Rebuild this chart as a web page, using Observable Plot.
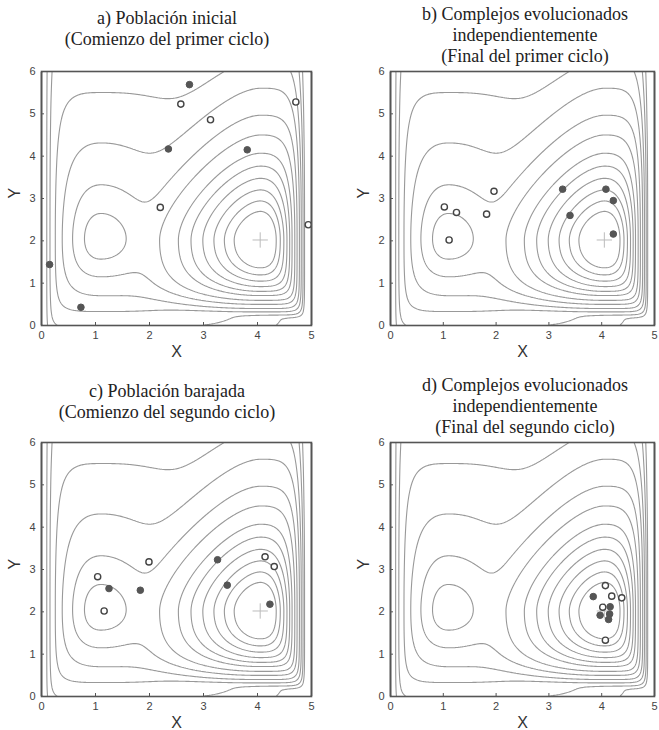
<!DOCTYPE html>
<html><head><meta charset="utf-8">
<script src="https://cdn.jsdelivr.net/npm/d3@7"></script>
<script src="https://cdn.jsdelivr.net/npm/@observablehq/plot@0.6"></script>
<style>
html,body{margin:0;padding:0;background:#fff;}
#root{position:relative;width:659px;height:730px;overflow:hidden;background:#fff;}
.title{position:absolute;width:320px;text-align:center;font-family:"Liberation Serif","Times New Roman",serif;font-size:18px;line-height:21px;color:#222;white-space:nowrap;}
.panel{position:absolute;}
</style></head><body>
<div id="root"></div>
<script>
// ---- text ----
const titleA = ["a) Población inicial", "(Comienzo del primer ciclo)"];
const titleB = ["b) Complejos evolucionados", "independientemente", "(Final del primer ciclo)"];
const titleC = ["c) Población barajada", "(Comienzo del segundo ciclo)"];
const titleD = ["d) Complejos evolucionados", "independientemente", "(Final del segundo ciclo)"];
const xTicks = [0, 1, 2, 3, 4, 5];
const yTicks = [0, 1, 2, 3, 4, 5, 6];
const xLabel = "X";
const yLabel = "Y";

// ---- contour surface: levels ----
const contourLevels = [0.45, 0.6, 0.75, 0.9, 1.05, 1.2, 1.4, 1.6, 1.85, 2.1, 2.4, 2.7];
const globalMinimum = [[4.05, 2.02]];
const localMinimum = [[1.1, 2.05]];

// ---- points (x, y) ----
const aFilled = [[2.74, 5.69], [2.35, 4.17], [3.81, 4.15], [0.15, 1.44], [0.73, 0.43]];
const aOpen   = [[2.58, 5.23], [3.13, 4.86], [4.71, 5.28], [2.20, 2.79], [4.94, 2.38]];
const bFilled = [[3.26, 3.22], [4.08, 3.22], [4.22, 2.95], [3.40, 2.60], [4.22, 2.16]];
const bOpen   = [[1.02, 2.80], [1.25, 2.67], [1.82, 2.63], [1.96, 3.17], [1.11, 2.02]];
const cFilled = [[1.25, 2.55], [1.83, 2.51], [3.26, 3.23], [3.44, 2.63], [4.23, 2.18]];
const cOpen   = [[1.04, 2.83], [1.16, 2.02], [1.99, 3.18], [4.14, 3.30], [4.31, 3.07]];
const dFilled = [[3.84, 2.36], [4.16, 2.12], [3.97, 1.92], [4.15, 1.95], [4.13, 1.82]];
const dOpen   = [[4.07, 2.62], [4.19, 2.37], [4.38, 2.33], [4.02, 2.11], [4.07, 1.33]];

// surface: smooth minimum of two basins with walls at the domain edges
const T = 0.1;
const clamp01 = v => Math.max(0, Math.min(1, v));
function pn(a, b, p) { return Math.pow(Math.pow(Math.abs(a), p) + Math.pow(Math.abs(b), p), 1 / p); }
const logWarp = (d, D) => D * Math.log(D / Math.max(D - d, 1e-4));
function surface(x, y) {
  const xx = Math.max(x, 1e-4), yy = Math.max(y, 1e-4);
  const [gx, gy] = globalMinimum[0];
  const dxg = x - gx, dyg = y - gy;
  const Xg = dxg >= 0 ? logWarp(dxg, 4.95 - gx) / 0.8
                      : (-dxg + 0.05 / Math.pow(xx, 1.5)) / (1 + 0.18 * -dxg);
  const Yg = dyg >= 0 ? dyg / (1.4 + 0.15 * dyg) : 2 * Math.log(gy / yy) / 1.75;
  const rg = Math.hypot(Xg, Yg);
  let pg;
  if (dxg < 0 && dyg >= 0) pg = 1.85;
  else if (dxg >= 0 && dyg >= 0) pg = 2 + 1.0 * clamp01(rg - 0.8);
  else if (dxg < 0) pg = 2 + 0.4 * clamp01(rg - 0.8);
  else pg = 2.2 + 1.6 * clamp01(rg - 0.6);
  const Fg = pn(Xg, Yg, pg);
  const [lx, ly] = localMinimum[0];
  const dxl = x - lx, dyl = y - ly;
  const Xl = dxl < 0 ? lx * Math.log(lx / xx) / 1.78 : dxl / 2.3;
  const dl = -dyl;
  const Yl = dyl >= 0 ? dyl / (2.8 + 0.3 * dyl) : dl / (2.6 - 0.4 * dl);
  const rl = Math.hypot(Xl, Yl);
  const Fl = 1.2 + pn(Xl, Yl, 2 + 3 * clamp01(rl - 0.6));
  const m = Math.min(Fg, Fl);
  return m - T * Math.log(1 + Math.exp(-Math.abs(Fg - Fl) / T));
}

const FH = 254, ML = 40, MR = 2, MT = 2, MB = 42;
const panels = [
  {title: titleA, filled: aFilled, open: aOpen, left: 41, top: 71, fw: 270, tx: 167, ty: 8},
  {title: titleB, filled: bFilled, open: bOpen, left: 390, top: 71, fw: 264, tx: 525, ty: 4},
  {title: titleC, filled: cFilled, open: cOpen, left: 41, top: 442, fw: 270, tx: 167, ty: 381},
  {title: titleD, filled: dFilled, open: dOpen, left: 390, top: 442, fw: 264, tx: 525, ty: 375}
];

const root = document.getElementById("root");
for (const p of panels) {
  const t = document.createElement("div");
  t.className = "title";
  t.style.left = (p.tx - 160) + "px";
  t.style.top = p.ty + "px";
  t.innerHTML = p.title.join("<br>");
  root.appendChild(t);

  const chart = Plot.plot({
    width: ML + p.fw + MR, height: MT + FH + MB,
    marginLeft: ML, marginRight: MR, marginTop: MT, marginBottom: MB,
    x: {domain: [0, 5]},
    y: {domain: [0, 6]},
    style: {fontFamily: "'Liberation Sans', Arial, sans-serif", fontSize: "11px", color: "#444", background: "transparent", overflow: "visible"},
    marks: [
      Plot.contour({value: surface, x1: 0, x2: 5, y1: 0, y2: 6, thresholds: contourLevels,
        fill: "none", stroke: "#999", strokeWidth: 1.1, pixelSize: 1}),
      Plot.dot(globalMinimum, {x: d => d[0], y: d => d[1], symbol: "plus", r: 5, stroke: "#bbb", strokeWidth: 1}),
      Plot.dot(p.open, {x: d => d[0], y: d => d[1], r: 3.1, fill: "white", stroke: "#444", strokeWidth: 1.4}),
      Plot.dot(p.filled, {x: d => d[0], y: d => d[1], r: 3.3, fill: "#555", stroke: "#555", strokeWidth: 1}),
      Plot.frame({stroke: "#555", strokeWidth: 1.6}),
      Plot.axisX({ticks: xTicks, tickFormat: d => String(d), tickSize: -3, tickPadding: 9, label: null, stroke: "#555"}),
      Plot.axisY({ticks: yTicks, tickFormat: d => String(d), tickSize: -3, tickPadding: 9, label: null, stroke: "#555"}),
      Plot.text([xLabel], {frameAnchor: "bottom", dy: 31, fontSize: 16, fill: "#333"}),
      Plot.text([yLabel], {frameAnchor: "left", dx: -27, rotate: -90, fontSize: 16, fill: "#333"})
    ]
  });
  chart.classList.add("panel");
  chart.style.left = (p.left - ML) + "px";
  chart.style.top = (p.top - MT) + "px";
  root.appendChild(chart);
}
</script>
</body></html>
